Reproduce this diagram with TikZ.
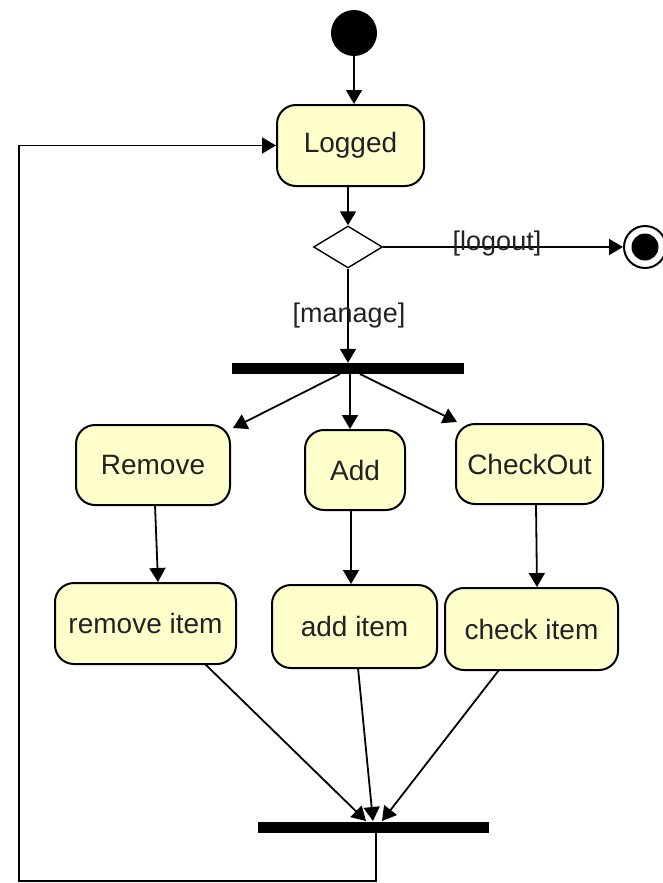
\documentclass[tikz,border=0pt]{standalone}
\usepackage{fontspec}
\setmainfont{Liberation Sans}
\usetikzlibrary{arrows.meta,shapes.geometric}
\definecolor{actfill}{HTML}{FFFFCC}
\definecolor{txt}{HTML}{222222}
\tikzset{
  activity/.style={draw=black, line width=2pt, fill=actfill, rounded corners=19pt,
    inner sep=0pt, text=txt, font=\fontsize{28}{32}\selectfont},
  bar/.style={fill=black, draw=none, inner sep=0pt},
  flow/.style={draw=black, line width=1.8pt, -{Triangle[width=16pt,length=14pt]}},
  guard/.style={text=txt, font=\fontsize{27}{32}\selectfont, inner sep=0pt},
}
\begin{document}
\begin{tikzpicture}[x=1pt,y=-1pt]
\useasboundingbox (0,0) rectangle (662,883);

% initial and final states
\node[circle, fill=black, minimum size=46pt, inner sep=0pt] (start) at (354,33) {};
\node[circle, draw=black, line width=2pt, fill=white, minimum size=42pt, inner sep=0pt] (stop) at (645,247) {};
\node[circle, fill=black, minimum size=27pt, inner sep=0pt] (stopdot) at (645,247) {};

% activities
\node[activity, minimum width=147pt, minimum height=81pt] (logged) at (350.5,145.5) {Logged};
\node[diamond, draw=black, line width=1.4pt, fill=white, minimum width=69pt, minimum height=42pt, inner sep=0pt, aspect=1.6] (choice) at (348,247) {};

\node[bar, minimum width=232pt, minimum height=11pt] (fork) at (348,368.5) {};

\node[activity, minimum width=154pt, minimum height=80pt] (remove) at (153,465) {Remove};
\node[activity, minimum width=100pt, minimum height=80pt] (add) at (355,470) {Add};
\node[activity, minimum width=147pt, minimum height=80pt] (checkout) at (529.5,464) {CheckOut};

\node[activity, minimum width=181pt, minimum height=81pt] (removeitem) at (145.5,623.5) {remove item};
\node[activity, minimum width=165pt, minimum height=83pt] (additem) at (354.5,626.5) {add item};
\node[activity, minimum width=173pt, minimum height=82pt] (checkitem) at (531.5,629) {check item};

\node[bar, minimum width=231pt, minimum height=11pt] (join) at (373.5,827.5) {};

% flows
\draw[flow] (start) -- (logged.north -| start);
\draw[flow] (logged.south -| choice.north) -- (choice.north);
\draw[flow] (choice.east) -- (stop.west);
\node[guard] (lblout) at (497,244) {[logout]};
\draw[flow] (choice.south) -- (fork.north -| choice.south);
\node[guard] (lblmanage) at (349,316) {[manage]};

\coordinate (fl) at (340,374);
\coordinate (fm) at (350,374);
\coordinate (fr) at (360,374);
\coordinate (tl) at (233,428);
\coordinate (tr) at (457,422);
\draw[flow] (fl) -- (tl);
\draw[flow] (fm) -- (add.north -| fm);
\draw[flow] (fr) -- (tr);

\draw[flow] (155,505) -- (removeitem.north -| 158,0);
\draw[flow] (add.south -| 351,0) -- (additem.north -| 351,0);
\draw[flow] (checkout.south -| 536,0) -- (checkitem.north -| 537,0);

\coordinate (jl) at (366,821);
\coordinate (jm) at (373,821);
\coordinate (jr) at (382,821);
\draw[flow] (205,664) -- (jl);
\draw[flow] (358,668) -- (jm);
\draw[flow] (499,670) -- (jr);

% loop back to Logged
\coordinate (c1) at (376,881);
\coordinate (c2) at (19,881);
\coordinate (c3) at (19,145.5);
\draw[flow] (join.south -| c1) -- (c1) -- (c2) -- (c3) -- (logged.west);
\end{tikzpicture}
\end{document}
